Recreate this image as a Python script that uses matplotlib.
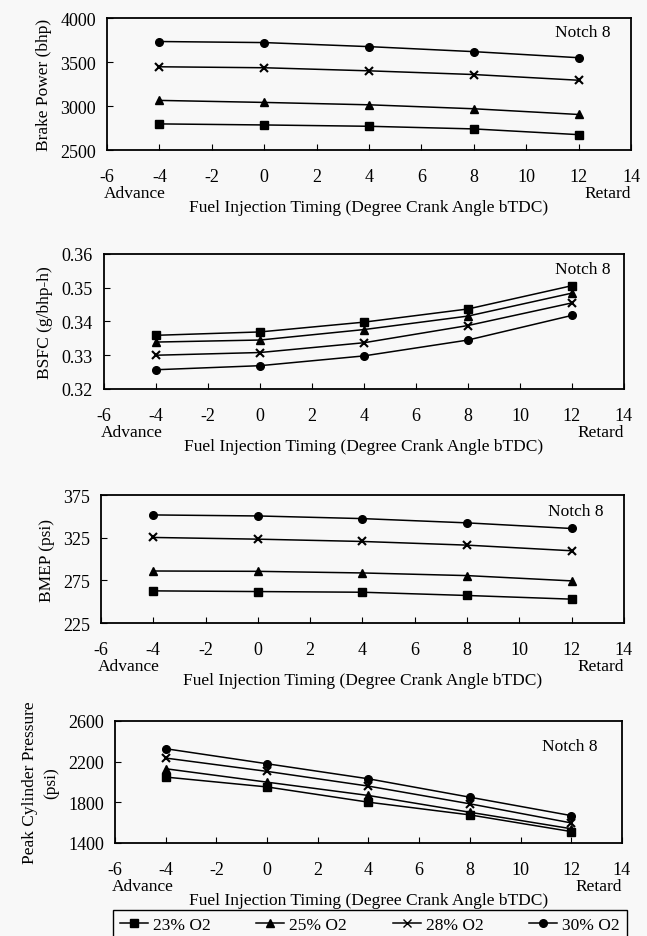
import matplotlib
matplotlib.use("Agg")
import matplotlib.pyplot as plt
from matplotlib.lines import Line2D

plt.rcParams['font.family'] = ['Liberation Serif', 'DejaVu Serif']

# injection timing (degree crank angle bTDC)
timing = [-4, 0, 4, 8, 12]
series_names = ["23% O2", "25% O2", "28% O2", "30% O2"]
markers = ['s', '^', 'x', 'o']

power_23 = [2797, 2785, 2770, 2740, 2675]
power_25 = [3064, 3041, 3014, 2969, 2904]
power_28 = [3446, 3435, 3400, 3358, 3293]
power_30 = [3733, 3721, 3675, 3618, 3549]

bsfc_23 = [0.3359, 0.3369, 0.3398, 0.3437, 0.3506]
bsfc_25 = [0.3339, 0.3345, 0.3376, 0.3416, 0.3484]
bsfc_28 = [0.3300, 0.3308, 0.3337, 0.3388, 0.3455]
bsfc_30 = [0.3257, 0.3269, 0.3298, 0.3345, 0.3418]

bmep_23 = [262.7, 261.9, 261.1, 257.3, 253.0]
bmep_25 = [286.0, 285.6, 283.7, 280.6, 274.4]
bmep_28 = [325.3, 323.3, 320.6, 316.3, 309.7]
bmep_30 = [351.7, 350.5, 347.4, 342.4, 335.8]

pcp_23 = [2048, 1951, 1801, 1676, 1512]
pcp_25 = [2130, 1998, 1867, 1702, 1540]
pcp_28 = [2235, 2104, 1959, 1785, 1597]
pcp_30 = [2327, 2179, 2031, 1850, 1669]

x_ticks = [-6, -4, -2, 0, 2, 4, 6, 8, 10, 12, 14]

panels = [
    # (axes rect, series, ylim, yticks, ylabel, notch position)
    ([0.1654, 0.8388, 0.8099, 0.1409], [power_23, power_25, power_28, power_30],
     (2500, 4000), [2500, 3000, 3500, 4000], "Brake Power (bhp)", (0.908, 0.894)),
    ([0.1607, 0.5838, 0.8037, 0.1441], [bsfc_23, bsfc_25, bsfc_28, bsfc_30],
     (0.32, 0.36), [0.32, 0.33, 0.34, 0.35, 0.36], "BSFC (g/bhp-h)", (0.921, 0.889)),
    ([0.1561, 0.3340, 0.8083, 0.1366], [bmep_23, bmep_25, bmep_28, bmep_30],
     (225, 375), [225, 275, 325, 375], "BMEP (psi)", (0.908, 0.875)),
    ([0.1777, 0.0993, 0.7836, 0.1302], [pcp_23, pcp_25, pcp_28, pcp_30],
     (1400, 2600), [1400, 1800, 2200, 2600], "Peak Cylinder Pressure\n(psi)", (0.897, 0.795)),
]

bg = '#f8f8f8'
fs = 12.5
fig = plt.figure(figsize=(6.47, 9.37), dpi=100, facecolor=bg)

for rect, data, ylim, yticks, ylabel, notch in panels:
    ax = fig.add_axes(rect, facecolor=bg)
    for vals, m in zip(data, markers):
        ax.plot(timing, vals, color='black', lw=1.1, marker=m, ms=5.5,
                mew=1.5 if m == 'x' else 1.0)
    ax.set_xlim(-6, 14)
    ax.set_ylim(*ylim)
    ax.set_xticks(x_ticks)
    ax.set_xticklabels([str(t) for t in x_ticks])
    ax.set_yticks(yticks)
    if ylim[1] < 1:
        ax.set_yticklabels([f"{v:.2f}" for v in yticks])
    ax.tick_params(axis='x', direction='in', length=4, pad=13, labelsize=13)
    ax.tick_params(axis='y', direction='in', length=4, pad=8, labelsize=13)
    for s in ax.spines.values():
        s.set_linewidth(1.3)
    ax.set_ylabel(ylabel, fontsize=fs, labelpad=6, linespacing=1.5)
    ax.set_xlabel("Fuel Injection Timing (Degree Crank Angle bTDC)", fontsize=fs, labelpad=10)
    ax.annotate("Advance", xy=(0, 0), xycoords='axes fraction', xytext=(-2, -31),
                textcoords='offset points', ha='left', va='center', fontsize=fs)
    ax.annotate("Retard", xy=(1, 0), xycoords='axes fraction', xytext=(0, -31),
                textcoords='offset points', ha='right', va='center', fontsize=fs)
    ax.text(notch[0], notch[1], "Notch 8", transform=ax.transAxes,
            ha='center', va='center', fontsize=fs)

handles = [Line2D([], [], color='black', lw=1.1, marker=m, ms=5.5) for m in markers]
fig.legend(handles, series_names, loc='upper center', ncol=4, mode='expand',
           bbox_to_anchor=(0.1747, -0.05, 0.7944, 0.0777), borderaxespad=0,
           fontsize=fs, frameon=True, fancybox=False, edgecolor='black',
           handlelength=1.6, handletextpad=0.3, facecolor=bg, framealpha=1)

fig.savefig("out.png", dpi=100, facecolor=bg)
